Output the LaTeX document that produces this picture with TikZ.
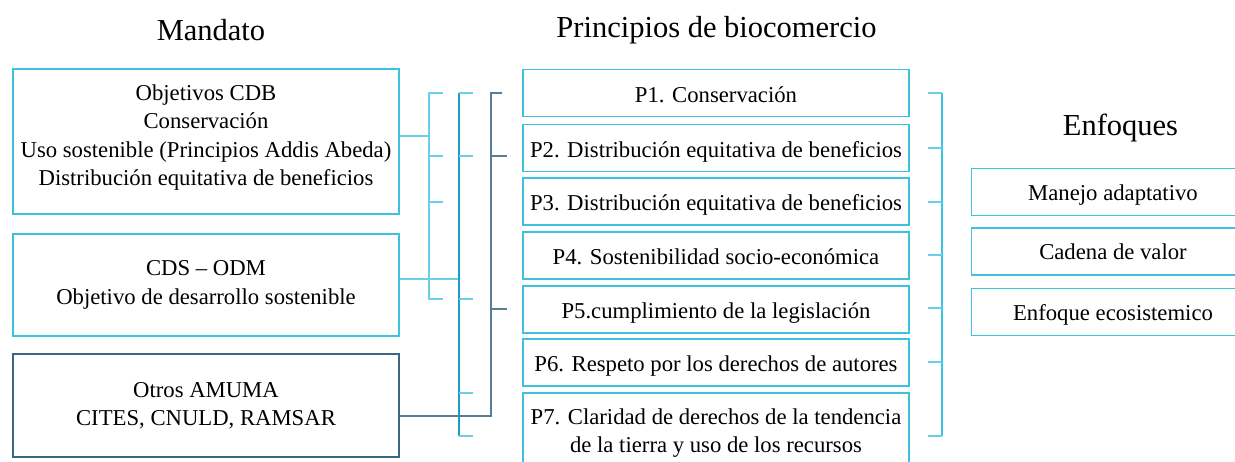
\documentclass[tikz,border=0pt]{standalone}
\usepackage{fontspec}
\setmainfont{Liberation Serif}
\definecolor{cybox}{HTML}{3DC3E0}
\definecolor{cylight}{HTML}{6ACFE8}
\definecolor{cymid}{HTML}{1A9FC2}
\definecolor{slate}{HTML}{5A7D94}
\definecolor{slatebox}{HTML}{3F6680}
\begin{document}
\begin{tikzpicture}[x=1pt,y=-1pt,
  box/.style={draw=cybox,line width=1.7pt,inner sep=0pt,align=center,
    font=\fontsize{22.7}{28.5}\selectfont},
  pbox/.style={box,minimum width=386pt,minimum height=47pt,text height=23.6pt,text depth=5pt},
  ebox/.style={box,minimum width=283pt,minimum height=47pt,text height=21.6pt,text depth=5pt},
  mbox/.style={box,minimum width=386pt},
  txt/.style={inner sep=0pt,align=center,font=\fontsize{22.7}{28.5}\selectfont},
  ttl/.style={inner sep=0pt,font=\fontsize{30.5}{36}\selectfont},
  br1/.style={draw=cylight,line width=1.7pt},
  br2/.style={draw=cymid,line width=1.7pt},
  br2t/.style={draw=cylight,line width=1.7pt},
  br3/.style={draw=slate,line width=1.7pt},
  br4/.style={draw=cybox,line width=1.7pt}]
\useasboundingbox (0,0) rectangle (1235,462);
\fill[white] (0,0) rectangle (1235,462);
% titles
\node[ttl] (tM) at (211,30) {Mandato};
\node[ttl] (tP) at (716.5,30) {Principios de biocomercio};
\node[ttl] (tE) at (1120.5,128) {Enfoques};
% mandate boxes
\node[mbox,minimum height=145pt] (A) at (206,141.5) {};
\node[txt] (At) at (206,137.5) {Objetivos CDB\\Conservación\\Uso sostenible (Principios Addis Abeda)\\Distribución equitativa de beneficios};
\node[mbox,minimum height=102pt] (B) at (206,285) {CDS -- ODM\\Objetivo de desarrollo sostenible};
\node[mbox,draw=slatebox,minimum height=103pt] (C) at (206,405.5) {Otros AMUMA\\CITES, CNULD, RAMSAR};
% principle boxes
\node[pbox] (P1) at (716,93) {P1. Conservación};
\node[pbox] (P2) at (716,148) {P2. Distribución equitativa de beneficios};
\node[pbox] (P3) at (716,201.7) {P3. Distribución equitativa de beneficios};
\node[pbox] (P4) at (716,255.3) {P4. Sostenibilidad socio-económica};
\node[pbox] (P5) at (716,309.2) {P5.cumplimiento de la legislación};
\node[pbox] (P6) at (716,362.7) {P6. Respeto por los derechos de autores};
\node[pbox,minimum height=80pt,text height=,text depth=] (P7) at (716,432.7) {};
\node[txt] (P7t) at (716,433) {P7. Claridad de derechos de la tendencia\\de la tierra y uso de los recursos};
% enfoques boxes
\node[ebox] (E1) at (1113,192) {Manejo adaptativo};
\node[ebox] (E2) at (1113,251.7) {Cadena de valor};
\node[ebox] (E3) at (1113,312) {Enfoque ecosistemico};
% bracket 1
\coordinate (b1t) at (429.3,92.7);
\coordinate (b1b) at (429.3,299);
\draw[br1] (A.east |- 0,136) -- (b1t |- 0,136);
\draw[br1] (443,92.7) -- (b1t) -- (b1b) -- (443,299);
\draw[br1] (b1t |- 0,156) -- (443,156);
\draw[br1] (b1t |- 0,201.7) -- (443,201.7);
% bracket 2
\coordinate (b2t) at (459.3,92.7);
\coordinate (b2b) at (459.3,436);
\draw[br2t] (B.east |- 0,279) -- (b2t |- 0,279);
\draw[br2] (b2t) -- (b2b);
\foreach \yy in {92.7,156,299,393.3,436}
  \draw[br2t] (b2t |- 0,\yy) -- (473,\yy);
% bracket 3
\coordinate (b3t) at (490.7,93.3);
\coordinate (b3b) at (490.7,416);
\draw[br3] (C.east |- b3b) -- (b3b) -- (b3t) -- (501.7,93.3);
\draw[br3] (b3t |- 0,156) -- (506.7,156);
\draw[br3] (b3t |- 0,308.7) -- (506.7,308.7);
% right bracket
\coordinate (b4t) at (942.3,92.7);
\coordinate (b4b) at (942.3,436);
\draw[br4] (b4t) -- (b4b);
\foreach \yy in {92.7,148.3,201.7,255,308.3,362.3,436}
  \draw[br1] (928.3,\yy) -- (b4t |- 0,\yy);
\end{tikzpicture}
\end{document}
